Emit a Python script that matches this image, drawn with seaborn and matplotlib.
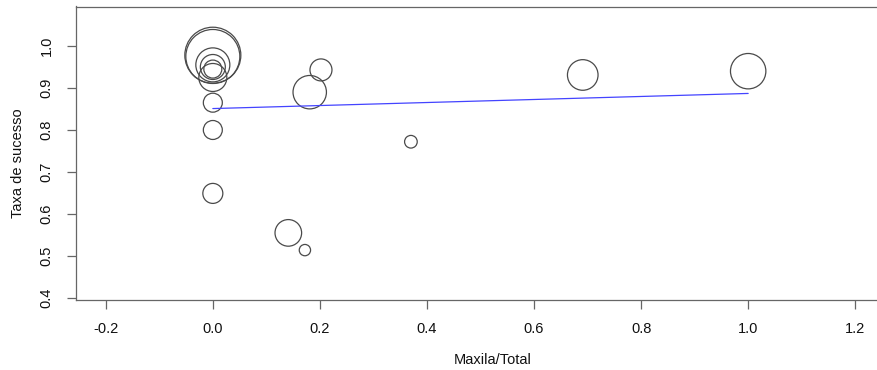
import numpy as np
import pandas as pd
import matplotlib
matplotlib.use("Agg")
import matplotlib.pyplot as plt
import seaborn as sns

# Studies: proportion of maxillary implants vs. success rate, bubble area ~ study weight
maxila_total = [0.0, 0.0, 0.0, 0.0, 0.0, 0.0, 0.0, 0.0, 0.0,
                0.141, 0.172, 0.181, 0.202, 0.370, 0.691, 1.0]
taxa_sucesso = [0.978, 0.975, 0.955, 0.950, 0.945, 0.925, 0.865, 0.800, 0.649,
                0.555, 0.514, 0.890, 0.943, 0.772, 0.931, 0.940]
peso = [7.84, 7.29, 2.89, 1.56, 0.81, 1.96, 0.90, 0.90, 1.00,
        1.77, 0.32, 2.79, 1.21, 0.40, 2.34, 3.13]

# Fitted meta-regression line
reg_x = [0.0, 1.0]
reg_y = [0.851, 0.887]

x_ticks = [-0.2, 0.0, 0.2, 0.4, 0.6, 0.8, 1.0, 1.2]
y_ticks = [0.4, 0.5, 0.6, 0.7, 0.8, 0.9, 1.0]

df = pd.DataFrame({"x": maxila_total, "y": taxa_sucesso, "w": peso})

sns.set_style("white")
plt.rcParams["font.family"] = ["Liberation Sans", "DejaVu Sans"]

W, H = 877, 370
fig = plt.figure(figsize=(W / 100, H / 100), dpi=100)
ax = fig.add_axes([76 / W, 70.5 / H, 809 / W, 293 / H])

edge = "#4a4a4a"
sns.scatterplot(data=df, x="x", y="y", size="w", sizes=(0, 2074), size_norm=(0, 10),
                legend=False, ax=ax, facecolor="none", edgecolor=edge, linewidth=0.9)
for coll in ax.collections:
    coll.set_facecolor("none")
    coll.set_edgecolor(edge)
    coll.set_linewidth(0.9)

sns.lineplot(x=reg_x, y=reg_y, color="#4444ff", lw=0.9, ax=ax)

ax.set_xlim(-0.2556, 1.2556)
ax.set_ylim(0.3964, 1.0940)
ax.set_xticks(x_ticks)
ax.set_yticks(y_ticks)
ax.set_xticklabels([f"{v:.1f}" for v in x_ticks])
ax.set_yticklabels([f"{v:.1f}" for v in y_ticks], rotation=90, va="center")

for s in ax.spines.values():
    s.set_visible(True)
    s.set_color("#666666")
    s.set_linewidth(0.9)

ax.tick_params(axis="both", which="major", bottom=True, left=True, top=False, right=False,
               direction="out", length=6.7, width=0.9, color="#666666",
               labelsize=10.5, labelcolor="#111111")
ax.tick_params(axis="x", pad=9.5)
ax.tick_params(axis="y", pad=9.5)

ax.set_xlabel("Maxila/Total", fontsize=10.5, color="#111111", va="center")
ax.set_ylabel("Taxa de sucesso", fontsize=10.5, color="#111111", va="center")
ax.xaxis.set_label_coords((493 - 76) / 809, (299.5 - 360) / 293)
ax.yaxis.set_label_coords((18 - 76) / 809, (299.5 - 163) / 293)

fig.savefig("out.png", dpi=100)
